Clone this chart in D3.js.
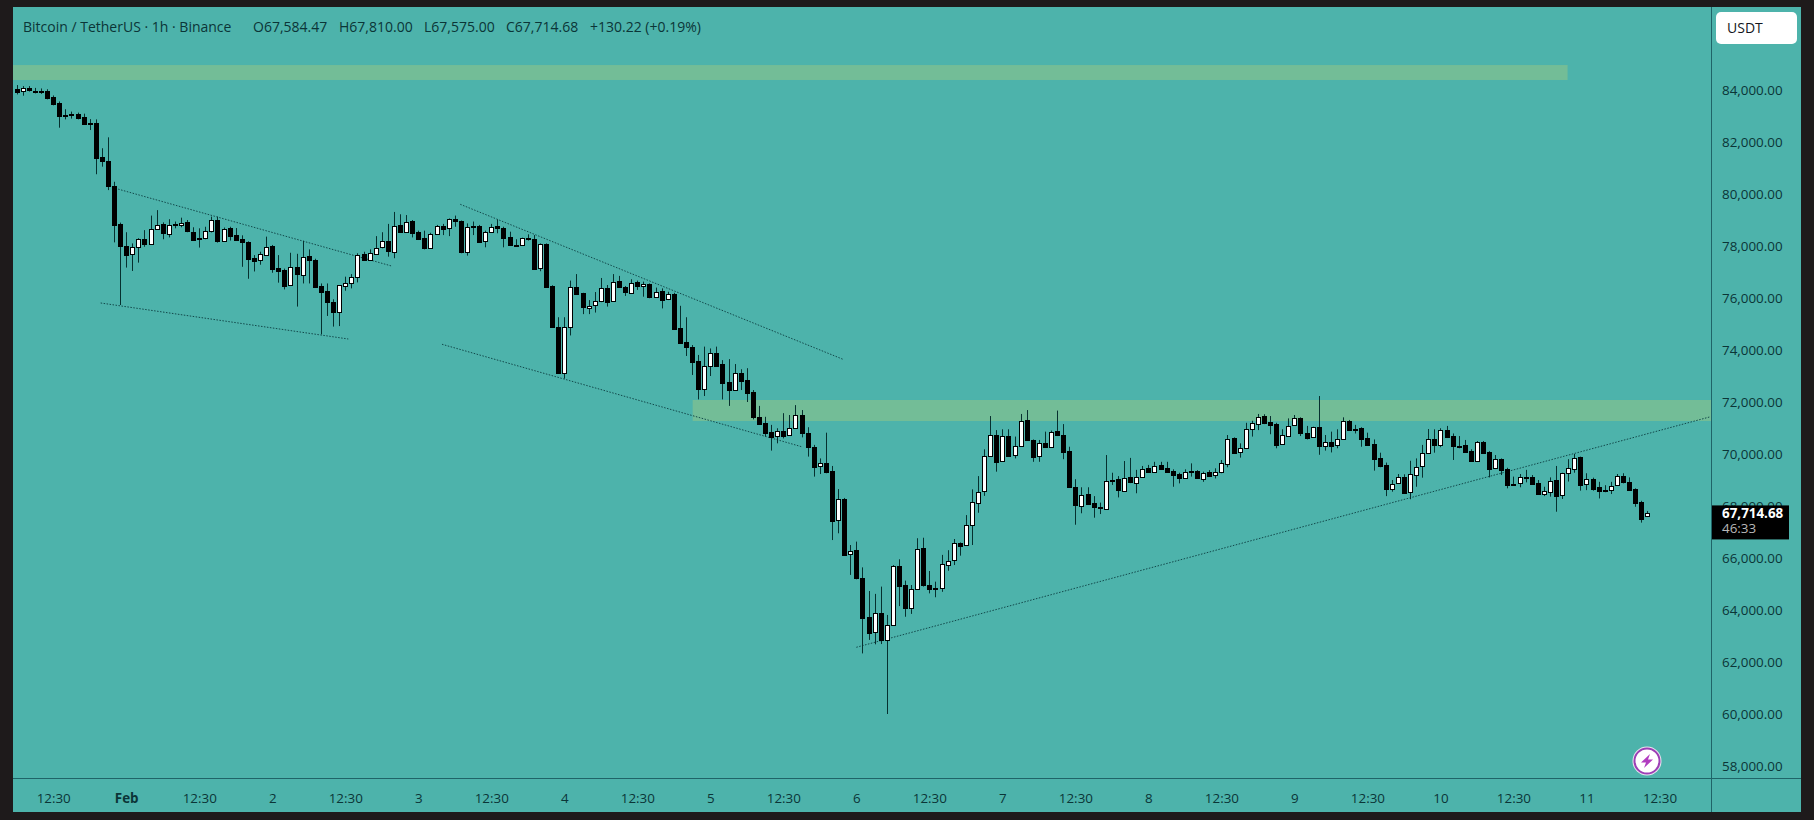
<!DOCTYPE html>
<html>
<head>
<meta charset="utf-8">
<title>Bitcoin / TetherUS</title>
<script src="https://cdn.jsdelivr.net/npm/d3@7"></script>
<style>
html, body { margin: 0; padding: 0; background: #1e1a1b; overflow: hidden; }
svg { display: block; }
text { font-family: "Open Sans", sans-serif; fill: #0b3537; }
</style>
</head>
<body>
<svg id="chart" width="1814" height="820"></svg>
<script>
// Hourly candles (one row = ten candles)
var opens = [
	84040,83940,84060,83980,83960,83960,83730,83500,83050,83070,
	83090,82960,82730,82730,81410,81260,80300,78830,78000,77670,
	77950,78260,78090,78680,78850,78490,78830,78810,78910,78550,
	78290,78300,78560,79000,78210,78680,78410,78260,78150,77550,
	77450,77680,78000,77140,77080,76470,77180,76910,77620,77460,
	76470,76260,75830,75440,76490,76590,76820,77680,77450,77710,
	77940,78180,77780,78810,78550,78960,78530,78300,77920,78470,
	78770,78680,79040,78960,77760,78750,78770,78170,78530,78750,
	78690,78350,78050,78030,78290,78270,77140,78080,76460,74870,
	73090,74870,76410,76190,75640,75710,75870,76400,75900,76650,
	76420,76220,76600,76450,76540,76040,76260,75950,76150,74850,
	74300,74120,73570,72500,73370,73880,73460,72770,72460,73110,
	72840,72380,71420,71190,70850,70690,70900,70720,70990,71500,
	70810,70270,69530,69640,69350,67460,68280,66140,66300,65230,
	63730,63140,63890,62870,63440,65700,64960,64090,64810,66370,
	64960,64840,64820,65760,65910,66590,66490,67270,68140,68560,
	69920,70730,69720,70690,69950,70300,71290,70540,69910,70440,
	70280,70870,70730,70110,68720,68020,68450,68100,67950,67910,
	69000,69030,68600,69100,68910,69140,69480,69320,69580,69460,
	69360,69220,69080,69340,69340,69050,69310,69170,69300,69640,
	70620,70060,70220,70950,71180,71460,71240,71150,70360,70720,
	71090,71380,70810,70640,71040,70300,70470,70320,70550,71280,
	70980,71000,70620,70380,69850,69580,68670,68860,69130,68510,
	69220,69510,70030,70580,70360,70940,70700,70320,70350,70110,
	69740,70470,70080,69440,69810,69440,68860,68860,69120,69120,
	68880,68460,68550,69000,68400,69240,69450,69870,68820,69050,
	68740,68620,68630,68780,69150,68920,68650,68150,67584.47
];
var highs = [
	84190,84150,84150,84080,84060,84030,83790,83560,83260,83170,
	83130,83090,82880,82870,81760,82180,80470,78900,78530,78100,
	78300,78610,79170,79380,78910,79030,78940,79090,79000,78720,
	78680,78740,79130,79130,78710,78740,78690,78410,78180,77650,
	77780,78360,78040,77650,77130,77740,77700,78200,77870,77510,
	76560,76560,75950,76500,76820,76920,77720,77780,77870,78380,
	78530,78850,79310,79220,79190,79000,78590,78590,78510,78810,
	78850,79060,79170,78980,78870,78940,78810,78590,78850,79020,
	78740,78550,78260,78320,78450,78420,78100,78100,76490,75260,
	75260,76670,76920,76200,75920,76230,76770,76500,76920,76850,
	76460,76720,76670,76630,76560,76400,76370,76240,76200,75700,
	75260,74190,73810,74130,74060,74130,73610,73650,73460,73260,
	73300,72460,71850,71430,71120,70990,71570,71500,71880,71690,
	71030,70350,69830,70820,69540,68650,68310,66500,66630,65640,
	64730,64620,64900,63810,65730,65950,65130,64960,66760,66780,
	65500,65090,66120,66300,66730,66600,67650,68640,69150,70180,
	71460,70920,70950,70950,70670,71540,71690,70560,70540,70860,
	70900,71670,71150,70280,69030,68720,68720,68380,68130,69960,
	69280,69150,69730,69850,69390,69540,69580,69700,69700,69700,
	69410,69280,69410,69640,69380,69320,69380,69450,69770,70730,
	70640,70410,71200,71280,71540,71530,71460,71200,70950,71370,
	71500,71410,71080,71050,72230,70730,70860,70950,71410,71310,
	71120,71030,70820,70560,70050,69670,69000,69230,69220,69740,
	69830,70350,70960,70950,70990,71080,70790,70690,70540,70180,
	70500,70500,70110,69960,69830,69470,69130,69230,69390,69190,
	69000,68740,69100,69540,69280,69800,70000,69900,69260,69090,
	68930,68800,68930,69230,69260,69100,68680,68200,67810
];
var lows = [
	83830,83780,83940,83870,83850,83640,83410,82550,82870,82900,
	82870,82680,82460,80760,81050,80150,78140,75730,77170,77040,
	77360,77970,78070,78680,78260,78330,78680,78720,78530,78230,
	77940,78260,78520,78130,78170,78210,78210,77200,76740,77020,
	77280,77650,76970,76590,76330,76460,75670,76560,76560,76410,
	74600,75310,74900,74920,76280,76370,76600,77440,77440,77680,
	77910,77590,77530,78540,78540,78330,78230,77870,77910,78460,
	78420,78380,78740,77720,77630,78420,78140,77950,78510,78490,
	77950,78040,77970,78010,78210,77110,77030,76400,74850,73080,
	72900,74560,76140,75380,75380,75440,75840,75670,75880,76390,
	76080,76210,76310,76050,75990,76030,75600,75920,74790,74260,
	73770,73040,72100,72230,73000,73360,72100,71850,72460,72460,
	72000,71330,71130,70670,70130,70410,70600,70710,70970,70640,
	69900,69130,69230,69260,66690,66950,66120,65350,65180,62330,
	62850,62680,62690,60000,63420,64150,63740,63850,64800,64900,
	64640,64490,64700,65510,65730,66090,66480,66500,67740,68390,
	69910,69320,69700,69900,69830,70280,70500,69700,69700,70260,
	70260,70690,69800,68700,67280,67720,68040,67550,67690,67900,
	68810,68330,68590,68880,68490,69130,69300,69310,69410,69300,
	68740,68870,69070,69130,69040,68930,69130,69060,69260,69490,
	70030,69860,70190,70670,70920,71150,70760,70220,70350,70700,
	71080,70690,70560,70630,69970,70130,70060,70220,70540,70900,
	70790,70280,70320,69360,69490,68380,68550,68850,68490,68260,
	68740,69090,70000,70050,70260,70640,69770,70220,70050,69700,
	69730,70030,69100,69420,69190,68680,68820,68720,68910,68850,
	68440,68380,68360,67780,68270,68940,69280,68590,68610,68590,
	68290,68530,68460,68770,68870,68590,67970,67360,67575
];
var closes = [
	83920,84065,83970,83970,83950,83700,83470,83010,83040,83050,
	82920,82700,82720,81400,81240,80280,78810,77970,77670,77950,
	78260,78080,78670,78820,78490,78820,78840,78900,78550,78260,
	78270,78560,78990,78210,78670,78380,78220,78130,77510,77420,
	77680,77970,77110,77040,76470,77180,76900,77590,77450,76440,
	76240,75820,75440,76490,76590,76820,77670,77450,77720,77940,
	78180,77780,78780,78550,78940,78510,78270,77920,78470,78770,
	78640,79030,78950,77750,78720,78730,78170,78530,78740,78680,
	78320,78040,78030,78300,78300,77130,78060,76420,74870,73090,
	74870,76410,76150,75640,75710,75870,76370,75880,76630,76400,
	76220,76590,76440,76530,76040,76240,75920,76140,74810,74270,
	74090,73540,72490,73370,73870,73380,72740,72460,73100,72810,
	72350,71400,71150,70810,70650,70900,70700,70990,71490,70800,
	70260,69510,69640,69300,67440,68260,66140,66270,65210,63700,
	63130,63870,62850,63440,65690,64940,64090,64820,66360,64940,
	64790,64800,65760,65900,66560,66490,67270,68140,68550,69910,
	70720,69700,70690,69940,70310,71280,70510,69900,70410,70280,
	70860,70720,70090,68720,68010,68440,68080,67940,67960,68970,
	69000,68590,69090,68900,69130,69440,69320,69540,69420,69310,
	69190,69070,69320,69340,69060,69280,69170,69300,69640,70590,
	70050,70220,70950,71190,71440,71200,71130,70360,70720,71090,
	71370,70790,70600,71020,70310,70450,70310,70560,71260,70920,
	70960,70580,70350,69810,69540,68650,68860,69100,68510,69220,
	69510,70020,70560,70360,70920,70670,70310,70300,70080,69730,
	70460,70040,69440,69800,69380,68840,68860,69100,69110,68860,
	68460,68560,68970,68400,69260,69450,69860,68810,69030,68680,
	68590,68620,68780,69140,68900,68610,68130,67510,67714.68
];

var priceTicks = [84000,82000,80000,78000,76000,74000,72000,70000,68000,66000,64000,62000,60000,58000];
// bar index of each time label, starts 12:30 on 31 Jan
var timeTickIdx = [6,18,30,42,54,66,78,90,102,114,126,138,150,162,174,186,198,210,222,234,246,258,270];
var timeTickLabels = ["12:30","Feb","12:30","2","12:30","3","12:30","4","12:30","5","12:30","6","12:30","7","12:30","8","12:30","9","12:30","10","12:30","11","12:30"];

// Zones: [from bar, to bar, top price, bottom price]
var zones = [
	[-0.6, 254.9, 84960, 84385],
	[111.1, 278.5, 72077, 71270]
];
// Trend lines: [bar, price, bar, price]
var trendLines = [
	[16.2, 80219, 61.6, 77231],
	[13.8, 75808, 54.5, 74423],
	[72.9, 79604, 135.8, 73643],
	[69.9, 74220, 129, 70281],
	[138, 62566, 278.3, 71428]
];

var titleParts = ["Bitcoin / TetherUS · 1h · Binance", "O67,584.47", "H67,810.00", "L67,575.00", "C67,714.68", "+130.22 (+0.19%)"];
var titleX = [23, 253, 339, 424, 506, 590];
var lastPrice = 67714.68;
var countdown = "46:33";

var frame = {left: 13, top: 7, right: 1801, bottom: 812, axisX: 1711, axisY: 778};

var x = d3.scaleLinear().domain([0, 268]).range([16.7, 1647.3]);
var y = d3.scaleLinear().domain([84000, 58000]).range([90, 766]);

var svg = d3.select("#chart");

// Teal panel
svg.append("rect")
	.attr("x", frame.left).attr("y", frame.top)
	.attr("width", frame.right - frame.left)
	.attr("height", frame.bottom - frame.top)
	.attr("fill", "#4db3ab");

// Zones
svg.selectAll(".zone").data(zones).enter().append("rect")
	.attr("class", "zone")
	.attr("x", function(d) { return x(d[0]); })
	.attr("y", function(d) { return y(d[2]); })
	.attr("width", function(d) { return x(d[1]) - x(d[0]); })
	.attr("height", function(d) { return y(d[3]) - y(d[2]); })
	.attr("fill", "#73bd97");

// Trend lines
svg.selectAll(".trend").data(trendLines).enter().append("line")
	.attr("class", "trend")
	.attr("x1", function(d) { return x(d[0]); })
	.attr("y1", function(d) { return y(d[1]); })
	.attr("x2", function(d) { return x(d[2]); })
	.attr("y2", function(d) { return y(d[3]); })
	.attr("stroke", "#12494b")
	.attr("stroke-width", 1)
	.attr("stroke-dasharray", "1.5 1.5");

// Candles
var candles = svg.append("g").selectAll("g").data(d3.range(opens.length)).enter().append("g");

candles.append("line")
	.attr("x1", function(i) { return Math.round(x(i)) + 0.5; })
	.attr("x2", function(i) { return Math.round(x(i)) + 0.5; })
	.attr("y1", function(i) { return y(highs[i]); })
	.attr("y2", function(i) { return y(lows[i]); })
	.attr("stroke", "#06302f")
	.attr("stroke-width", 1);

candles.append("rect")
	.attr("x", function(i) { return Math.round(x(i)) - 1.5; })
	.attr("width", 4)
	.attr("y", function(i) { return Math.round(y(Math.max(opens[i], closes[i]))) + 0.5; })
	.attr("height", function(i) { return Math.max(1, Math.round(Math.abs(y(opens[i]) - y(closes[i])))); })
	.attr("fill", function(i) { return closes[i] >= opens[i] ? "#ffffff" : "#000000"; })
	.attr("stroke", "#000000")
	.attr("stroke-width", 1);

// Axis lines
svg.append("line")
	.attr("x1", frame.axisX + 0.5).attr("x2", frame.axisX + 0.5)
	.attr("y1", frame.top).attr("y2", frame.bottom)
	.attr("stroke", "#1f6468");
svg.append("line")
	.attr("x1", frame.left).attr("x2", frame.right)
	.attr("y1", frame.axisY + 0.5).attr("y2", frame.axisY + 0.5)
	.attr("stroke", "#1f6468");

// Price axis
var yAxis = d3.axisRight(y)
	.tickValues(priceTicks)
	.tickFormat(d3.format(",.2f"))
	.tickSize(0)
	.tickPadding(0);
var yG = svg.append("g")
	.attr("transform", "translate(" + (frame.axisX + 11) + ",0)")
	.call(yAxis);
yG.select(".domain").remove();
yG.selectAll("text")
	.style("font-family", '"Open Sans", sans-serif')
	.style("font-size", "13.4px");

// Time axis
var xAxis = d3.axisBottom(x)
	.tickValues(timeTickIdx)
	.tickFormat(function(d, i) { return timeTickLabels[i]; })
	.tickSize(0)
	.tickPadding(0);
var xG = svg.append("g")
	.attr("transform", "translate(0," + (frame.axisY + 15) + ")")
	.call(xAxis);
xG.select(".domain").remove();
xG.selectAll("text")
	.style("font-family", '"Open Sans", sans-serif')
	.style("font-size", "13.4px")
	.style("font-weight", function(d, i) { return timeTickLabels[i] == "Feb" ? "bold" : "normal"; });

// Title row
svg.selectAll(".title").data(titleParts).enter().append("text")
	.attr("class", "title")
	.attr("x", function(d, i) { return titleX[i]; })
	.attr("y", 32)
	.attr("font-size", 14)
	.text(function(d) { return d; });

// USDT button
svg.append("rect")
	.attr("x", 1716).attr("y", 12).attr("width", 81).attr("height", 32).attr("rx", 5)
	.attr("fill", "#ffffff");
svg.append("text")
	.attr("x", 1727).attr("y", 33)
	.attr("font-size", 14)
	.style("fill", "#131722")
	.text("USDT");

// Last price tag
var tagY = y(lastPrice);
svg.append("rect")
	.attr("x", frame.axisX + 1).attr("y", tagY - 8)
	.attr("width", 77).attr("height", 34)
	.attr("fill", "#000000");
svg.append("text")
	.attr("x", frame.axisX + 11).attr("y", tagY + 5)
	.attr("font-size", 13.4)
	.attr("font-weight", "bold")
	.style("fill", "#ffffff")
	.text(d3.format(",.2f")(lastPrice));
svg.append("text")
	.attr("x", frame.axisX + 11).attr("y", tagY + 20)
	.attr("font-size", 13.4)
	.style("fill", "#b8b8b8")
	.text(countdown);

// Lightning badge
var badge = svg.append("g").attr("transform", "translate(1647,761)");
badge.append("circle").attr("r", 14.5).attr("fill", "#e8e4ee");
badge.append("circle").attr("r", 12.5).attr("fill", "#ffffff").attr("stroke", "#9c3fb5").attr("stroke-width", 2);
badge.append("path")
	.attr("d", "M3,-7 L-6,1.5 L-1,1.5 L-3,7 L6,-1.5 L1,-1.5 Z")
	.attr("fill", "#b13cc0");
</script>
</body>
</html>
